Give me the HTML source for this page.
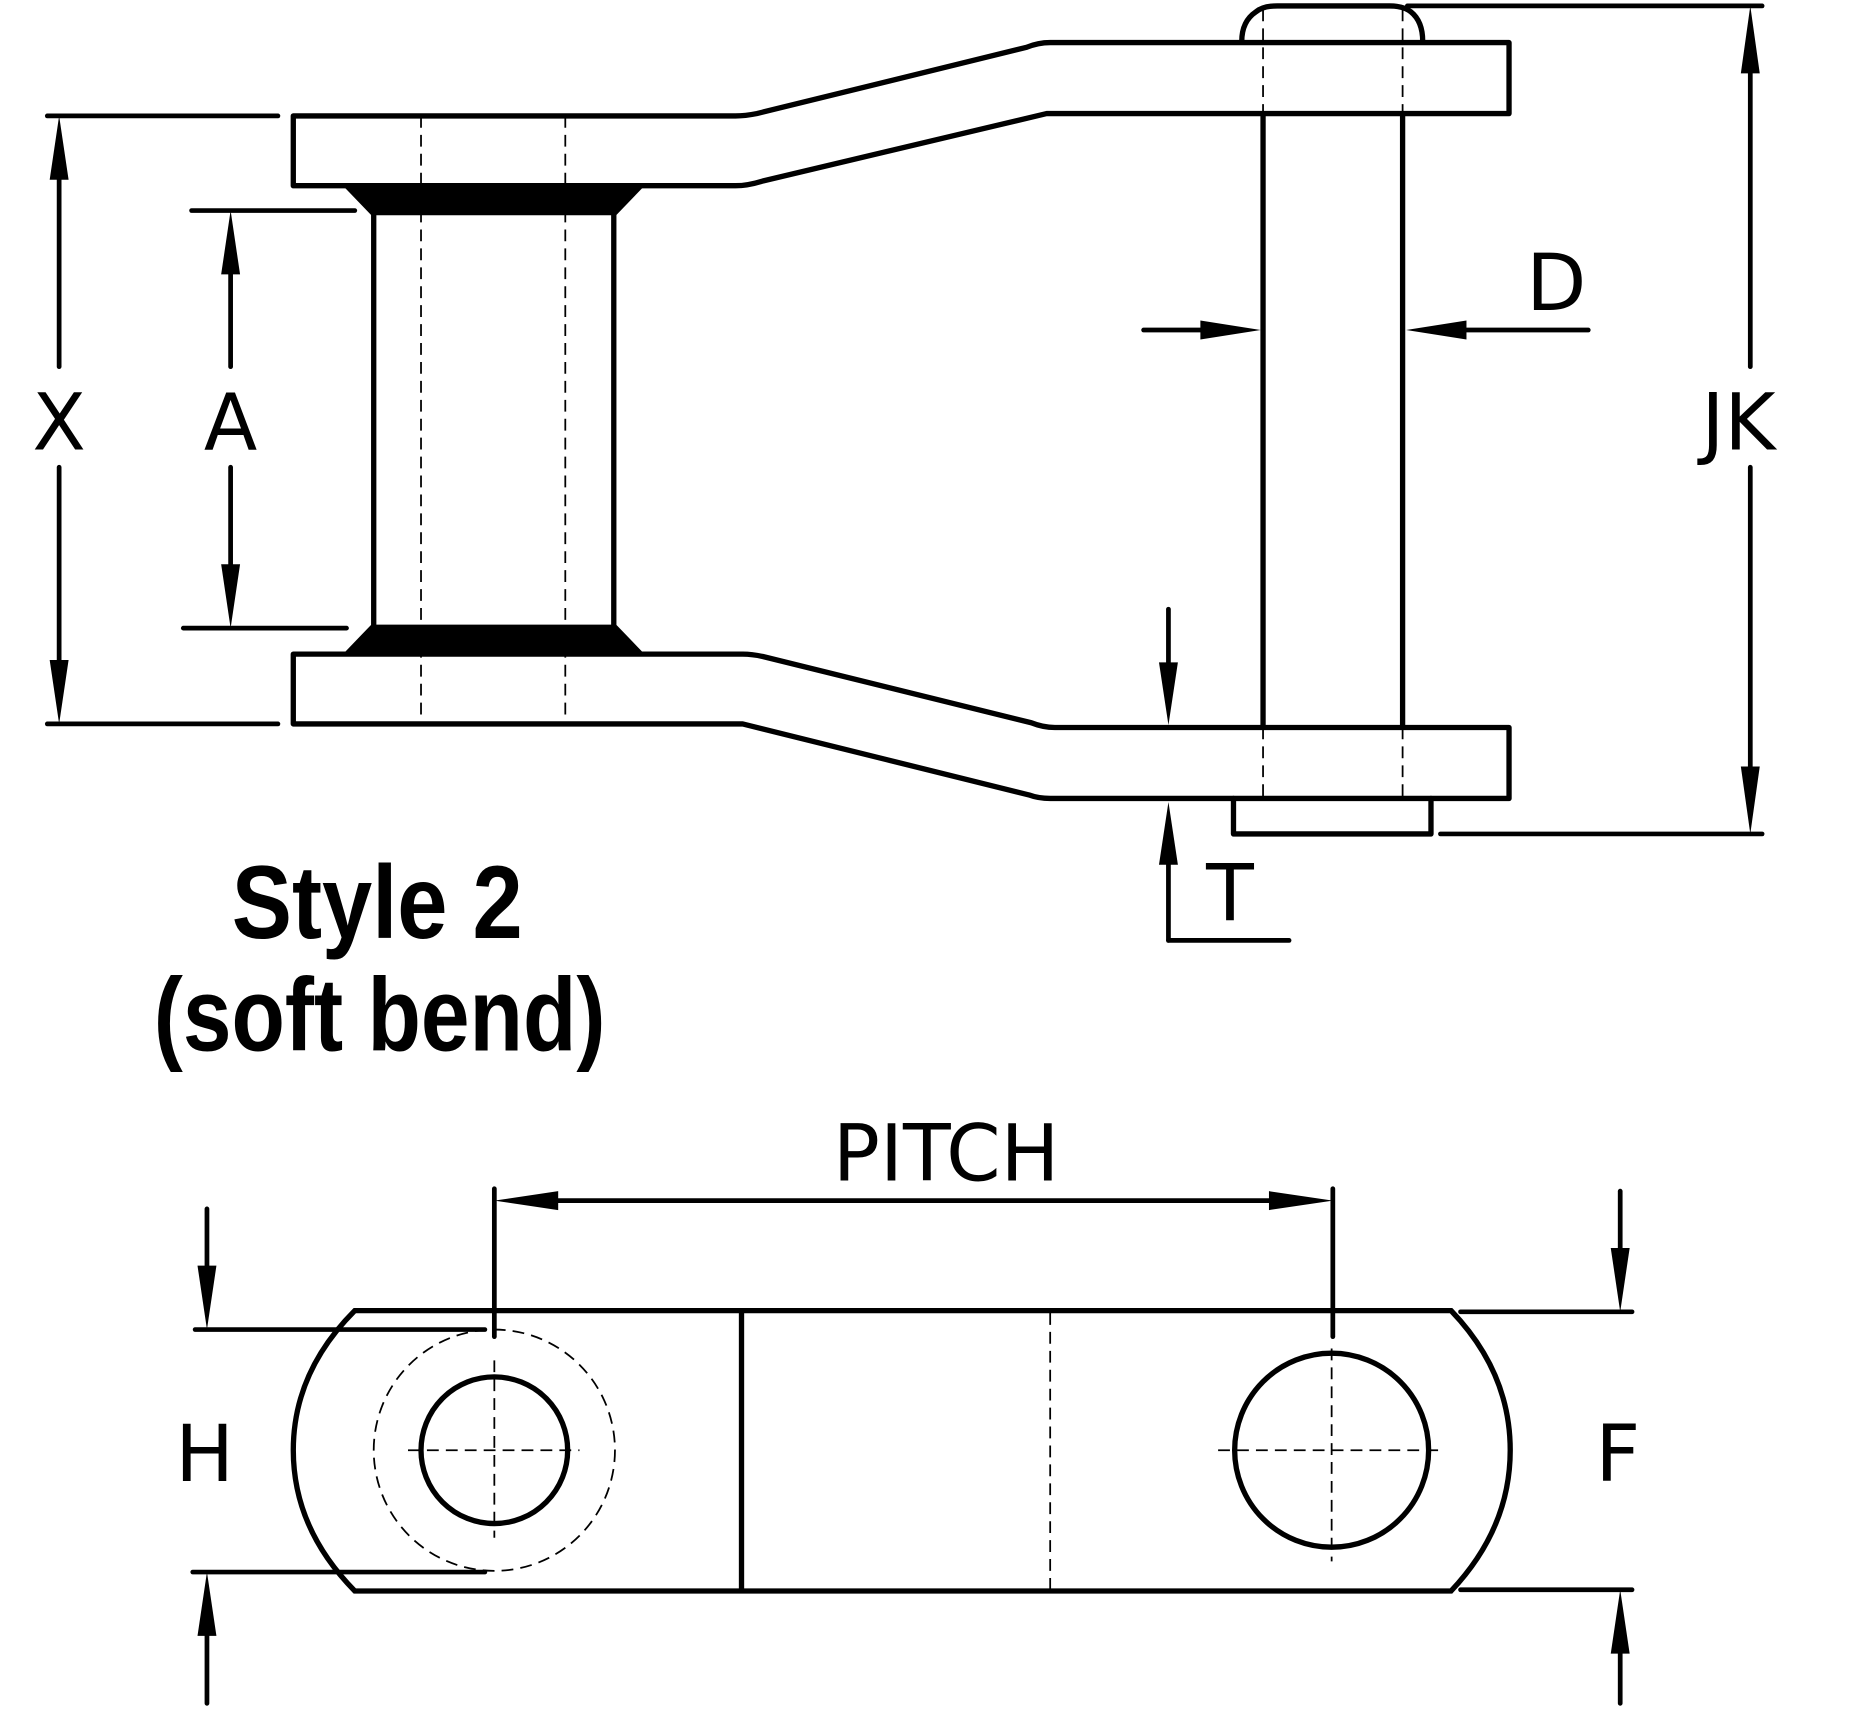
<!DOCTYPE html>
<html><head><style>html,body{margin:0;padding:0;background:#fff}svg{display:block}</style></head>
<body>
<svg width="1852" height="1714" viewBox="0 0 1566 1449" preserveAspectRatio="none" xmlns="http://www.w3.org/2000/svg">
<g fill="none" stroke="#000" stroke-width="4.5" stroke-linejoin="round" stroke-linecap="round">
<path d="M248 98 H622 Q630 98 640 96 L868 40 Q878 36 888 36 H1276 V96 H885 L645 153 Q632 157 622 157 H248 Z"/>
<path d="M1050 35 Q1050 18 1062 10 Q1068 5 1080 5 H1175 Q1187 5 1193 10 Q1203 18 1203 35"/>
<path d="M248 553 H628 Q636 553 645 555 L872 611 Q882 615 892 615 H1276 V675 H888 Q878 675 870 672 L628 612 H248 Z"/>
<path d="M1043 675 V705 H1210 V675"/>
<line x1="1068" y1="96" x2="1068" y2="615"/>
<line x1="1186" y1="96" x2="1186" y2="615"/>
<line x1="316" y1="180" x2="316" y2="530"/>
<line x1="519" y1="180" x2="519" y2="530"/>
</g>
<g fill="#000">
<polygon points="290,157 545,157 521,182 314,182"/>
<polygon points="314,528 521,528 545,553 290,553"/>
</g>
<g stroke="#000" stroke-width="1.5" stroke-dasharray="10,6" fill="none">
<line x1="356" y1="98" x2="356" y2="612"/>
<line x1="478" y1="98" x2="478" y2="612"/>
<line x1="1068" y1="8" x2="1068" y2="96"/>
<line x1="1186" y1="8" x2="1186" y2="96"/>
<line x1="1068" y1="615" x2="1068" y2="675"/>
<line x1="1186" y1="615" x2="1186" y2="675"/>
<line x1="888" y1="1110" x2="888" y2="1343"/>
<circle cx="418" cy="1226" r="102"/>
<line x1="345" y1="1226" x2="490" y2="1226"/>
<line x1="418" y1="1150" x2="418" y2="1300"/>
<line x1="1030" y1="1226" x2="1222" y2="1226"/>
<line x1="1126" y1="1140" x2="1126" y2="1320"/>
</g>
<g stroke="#000" stroke-width="4" fill="none" stroke-linecap="round">
<line x1="40" y1="98" x2="235" y2="98"/><line x1="40" y1="612" x2="235" y2="612"/>
<line x1="50" y1="140" x2="50" y2="310"/><line x1="50" y1="395" x2="50" y2="570"/>
<line x1="162" y1="178" x2="300" y2="178"/><line x1="155" y1="531" x2="293" y2="531"/>
<line x1="195" y1="220" x2="195" y2="310"/><line x1="195" y1="395" x2="195" y2="490"/>
<line x1="1190" y1="5" x2="1490" y2="5"/><line x1="1218" y1="705" x2="1490" y2="705"/>
<line x1="1480" y1="50" x2="1480" y2="310"/><line x1="1480" y1="395" x2="1480" y2="660"/>
<line x1="967" y1="279" x2="1020" y2="279"/><line x1="1240" y1="279" x2="1343" y2="279"/>
<line x1="988" y1="515" x2="988" y2="570"/><line x1="988" y1="720" x2="988" y2="795"/><line x1="988" y1="795" x2="1090" y2="795"/>
<line x1="418" y1="1005" x2="418" y2="1130"/><line x1="1127" y1="1005" x2="1127" y2="1130"/>
<line x1="465" y1="1015" x2="1080" y2="1015"/>
<line x1="165" y1="1124" x2="410" y2="1124"/><line x1="163" y1="1329" x2="410" y2="1329"/>
<line x1="175" y1="1022" x2="175" y2="1075"/><line x1="175" y1="1375" x2="175" y2="1440"/>
<line x1="1235" y1="1109" x2="1380" y2="1109"/><line x1="1235" y1="1344" x2="1380" y2="1344"/>
<line x1="1370" y1="1007" x2="1370" y2="1060"/><line x1="1370" y1="1390" x2="1370" y2="1440"/>
</g>
<g fill="#000">
<polygon points="50,98 42,152 58,152"/><polygon points="50,612 42,558 58,558"/>
<polygon points="195,178 187,232 203,232"/><polygon points="195,531 187,477 203,477"/>
<polygon points="1480,5 1472,62 1488,62"/><polygon points="1480,705 1472,648 1488,648"/>
<polygon points="1066,279 1015,271 1015,287"/><polygon points="1189,279 1240,271 1240,287"/>
<polygon points="988,613 980,560 996,560"/><polygon points="988,678 980,731 996,731"/>
<polygon points="418,1015 472,1007 472,1023"/><polygon points="1127,1015 1073,1007 1073,1023"/>
<polygon points="175,1124 167,1070 183,1070"/><polygon points="175,1329 167,1383 183,1383"/>
<polygon points="1370,1109 1362,1055 1378,1055"/><polygon points="1370,1344 1362,1398 1378,1398"/>
</g>
<g fill="none" stroke="#000" stroke-width="4.5">
<path d="M300 1108 H1227 Q1277 1160 1277 1226 Q1277 1292 1227 1345 H300 Q248 1292 248 1226 Q248 1160 300 1108 Z"/>
<line x1="627" y1="1108" x2="627" y2="1345"/>
<circle cx="418" cy="1226" r="62"/>
<circle cx="1126" cy="1226" r="82"/>
</g>
<g font-family="'DejaVu Sans','Liberation Sans',sans-serif" font-size="66" fill="#000" text-anchor="middle">
<text x="50" y="380">X</text>
<text x="195" y="380">A</text>
<text x="1470" y="380">JK</text>
<text x="1316" y="262">D</text>
<text x="1040" y="778">T</text>
<text x="800" y="998">PITCH</text>
<text x="173" y="1252">H</text>
<text x="1368" y="1252">F</text>
</g>
<g font-family="'Liberation Sans',sans-serif" font-weight="bold" font-size="88" fill="#000">
<text x="196" y="793" textLength="246" lengthAdjust="spacingAndGlyphs">Style 2</text>
<text x="130" y="888" textLength="382" lengthAdjust="spacingAndGlyphs">(soft bend)</text>
</g>
</svg>
</body></html>
